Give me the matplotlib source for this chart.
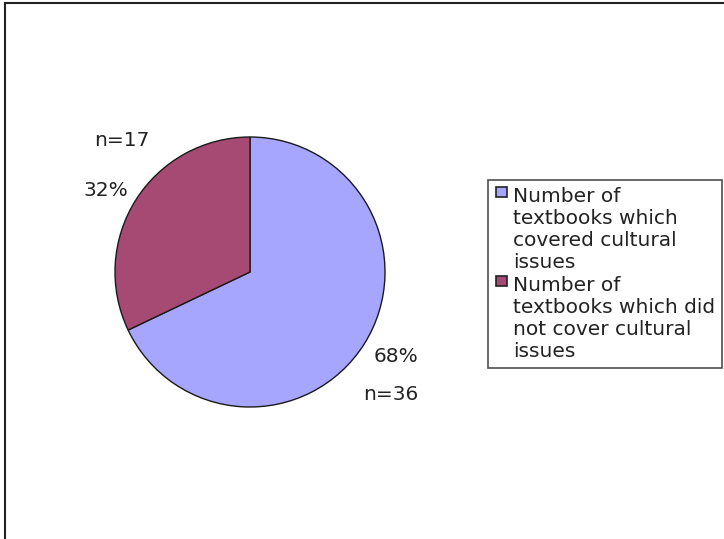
import matplotlib
matplotlib.use("Agg")
import matplotlib.pyplot as plt
from matplotlib.patches import Rectangle
from matplotlib.lines import Line2D

categories = ["Number of\ntextbooks which\ncovered cultural\nissues",
              "Number of\ntextbooks which did\nnot cover cultural\nissues"]
values = [36, 17]
percent_labels = ["68%", "32%"]
count_labels = ["n=36", "n=17"]
colors = ["#a6a6ff", "#a64a73"]

W, H = 724, 539
fig = plt.figure(figsize=(W / 100, H / 100), dpi=100)
fig.patch.set_facecolor("white")

# figure frame lines (top and left)
fig.add_artist(Line2D([4.5 / W, 4.5 / W], [0, 1 - 3 / H], color="#222222", lw=1.5))
fig.add_artist(Line2D([4.5 / W, 1], [1 - 3 / H, 1 - 3 / H], color="#222222", lw=1.5))

cx, cy, r = 250, 272, 135
ax = fig.add_axes([(cx - r) / W, (H - cy - r) / H, 2 * r / W, 2 * r / H])
wedges, _ = ax.pie(values, colors=colors, startangle=90, counterclock=False,
                   radius=1, wedgeprops=dict(edgecolor="#1a1a1a", linewidth=1.0))
ax.set_xlim(-1, 1)
ax.set_ylim(-1, 1)
ax.set_aspect("auto")
ax.axis("off")

fs = 14.5
tc = "#222222"
def px(x, y):
    return (x - cx) / r, (cy - y) / r

label_pos = {"68%": (396, 357), "n=36": (391, 395), "32%": (106, 190), "n=17": (122, 140)}
for lab in percent_labels + count_labels:
    x, y = px(*label_pos[lab])
    ax.text(x, y, lab, ha="center", va="center", fontsize=fs, color=tc, clip_on=False)


class TopSquareHandler:
    def __init__(self, shift):
        self.shift = shift

    def legend_artist(self, legend, orig_handle, fontsize, handlebox):
        x0, y0 = handlebox.xdescent, handlebox.ydescent
        s = 0.5 * fontsize
        p = Rectangle((-x0 + 1, -y0 + self.shift), s, s,
                      facecolor=orig_handle.get_facecolor(), edgecolor="#222222",
                      lw=1.2, transform=handlebox.get_transform())
        handlebox.add_artist(p)
        return p

pitch_pt = 24 * 0.72
shift = 1.5 * pitch_pt + 2.5
leg = fig.legend(wedges, categories, loc="upper left",
                 bbox_to_anchor=(488 / W, 1 - 180 / H),
                 frameon=True, fontsize=fs, handlelength=0.6, handleheight=0.6,
                 handletextpad=0.3, borderpad=0.35, labelspacing=0.2,
                 borderaxespad=0, fancybox=False,
                 handler_map={w: TopSquareHandler(shift) for w in wedges})
leg.get_frame().set_edgecolor("#222222")
leg.get_frame().set_linewidth(1.2)
for t in leg.get_texts():
    t.set_color(tc)
    t.set_linespacing(1.2)

fig.savefig("out.png", dpi=100, facecolor="white")
